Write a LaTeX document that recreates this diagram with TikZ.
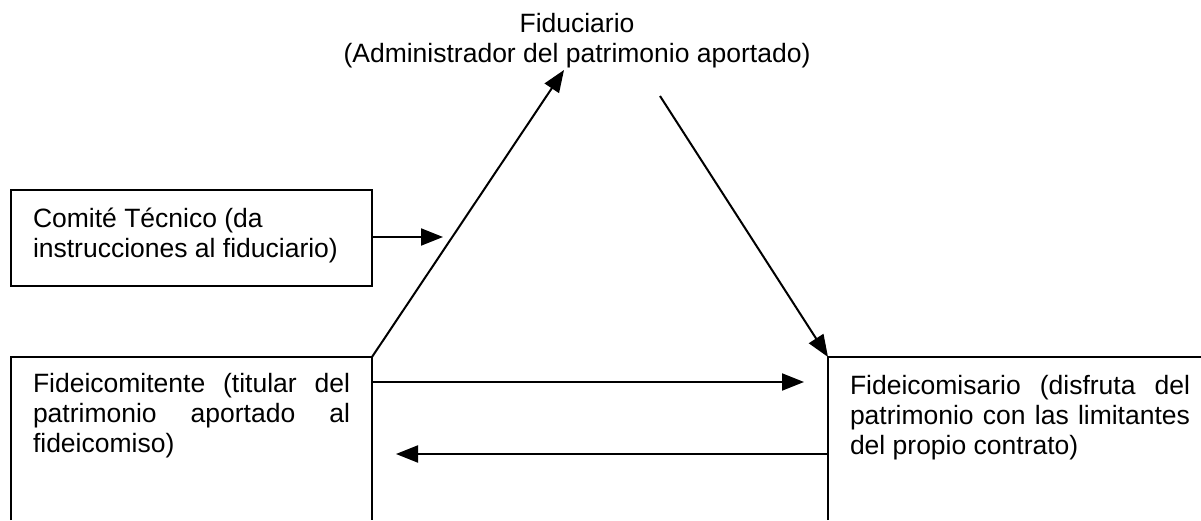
\documentclass[tikz,border=0pt]{standalone}
\usepackage{fontspec}
\setmainfont{Liberation Sans}
\usetikzlibrary{arrows.meta}
\tikzset{
  edge/.style={line width=2pt},
  conn/.style={line width=2pt,-{Triangle[length=22pt,width=17pt]}},
  txt/.style={inner sep=0pt,outer sep=0pt,font=\fontsize{26.5}{30}\selectfont},
}
\begin{document}
\begin{tikzpicture}[x=1pt,y=-1pt]
\useasboundingbox (0,0) rectangle (1201,520);
% box outlines
\draw[edge] (11,286) -- (11,190) -- (372,190) -- (372,286) -- cycle;
\draw[edge] (11,520) -- (11,357) -- (372,357) -- (372,520);
\draw[edge] (828,520) -- (828,357) -- (1201,357);
% corner coordinates
\coordinate (fcTR) at (372,357);
\coordinate (fsTL) at (828,357);
\coordinate (fidL) at (564,70);
\coordinate (fidR) at (660,96);
\coordinate (ctR) at (372,237);
\coordinate (ctTip) at (443,237);
\coordinate (fcA) at (372,382);
\coordinate (fsA) at (804,382);
\coordinate (fsB) at (828,454);
\coordinate (fcB) at (396,454);
% texts
\node[txt,align=center,anchor=north] (fid) at (577,13.5) {Fiduciario\\(Administrador del patrimonio aportado)};
\node[txt,align=left,anchor=north west] (ct) at (33,207.5) {Comité Técnico (da\\instrucciones al fiduciario)};
\node[txt,text width=317pt,align=justify,anchor=north west] (fc) at (33,373.5) {Fideicomitente (titular del\linebreak patrimonio aportado al\linebreak fideicomiso)};
\node[txt,text width=340pt,align=justify,anchor=north west] (fs) at (850,375.5) {Fideicomisario (disfruta del\linebreak patrimonio con las limitantes\linebreak del propio contrato)};
% connectors
\draw[conn] (ctR) -- (ctTip);
\draw[conn] (fcTR) -- (fidL);
\draw[conn] (fidR) -- (fsTL);
\draw[conn] (fcA) -- (fsA);
\draw[conn] (fsB) -- (fcB);
\end{tikzpicture}
\end{document}
